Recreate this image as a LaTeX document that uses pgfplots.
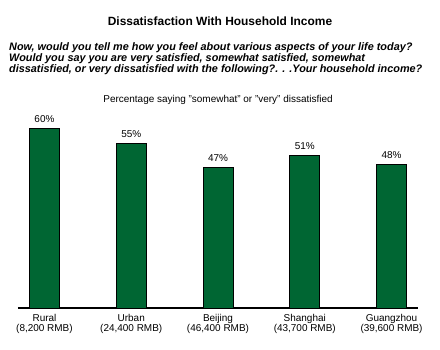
\documentclass[border=0pt]{standalone}
\usepackage{fontspec}
\setmainfont{Liberation Sans}
\usepackage{pgfplots}
\pgfplotsset{compat=1.18}
\definecolor{bargreen}{RGB}{0,102,51}
\begin{document}
\begin{tikzpicture}
\path[use as bounding box] (0,0) rectangle (440bp,350bp);
\node[anchor=base] at (220bp,{(350-25)*1bp}) {\fontsize{12}{13}\selectfont\bfseries Dissatisfaction With Household Income};
\node[anchor=base west,inner sep=0pt] at (9bp,{(350-50)*1bp}) {\fontsize{10.9}{11}\selectfont\bfseries\itshape Now, would you tell me how you feel about various aspects of your life today?};
\node[anchor=base west,inner sep=0pt] at (9bp,{(350-61)*1bp}) {\fontsize{10.9}{11}\selectfont\bfseries\itshape Would you say you are very satisfied, somewhat satisfied, somewhat};
\node[anchor=base west,inner sep=0pt] at (9bp,{(350-72)*1bp}) {\fontsize{10.9}{11}\selectfont\bfseries\itshape dissatisfied, or very dissatisfied with the following?. . .Your household income?};
\node[anchor=base] at (218bp,{(350-102)*1bp}) {\fontsize{10}{11}\selectfont Percentage saying "somewhat" or "very" dissatisfied};
\begin{axis}[
  at={(18bp,42bp)}, anchor=south west,
  scale only axis, width=400bp, height=210bp,
  xmin=-0.305, xmax=4.305, ymin=0, ymax=70,
  clip=false,
  axis x line=bottom, axis y line=none,
  x axis line style={-, line width=1.2bp, black},
  major tick length=0pt,
  xtick=data,
  xticklabels={{Rural\\(8,200 RMB)},{Urban\\(24,400 RMB)},{Beijing\\(46,400 RMB)},{Shanghai\\(43,700 RMB)},{Guangzhou\\(39,600 RMB)}},
  xticklabel style={align=center, font=\fontsize{10}{9.5}\selectfont, anchor=base, yshift=-23bp},
  ybar, bar width=30bp,
  nodes near coords={\pgfmathprintnumber[assume math mode=true]{\pgfplotspointmeta}\%},
  every node near coord/.append style={font=\fontsize{10}{11}\selectfont, anchor=base, yshift=6bp},
]
\addplot[fill=bargreen, draw=black, line width=0.9bp] coordinates {(0,60) (1,55) (2,47) (3,51) (4,48)};
\end{axis}
\end{tikzpicture}
\end{document}
